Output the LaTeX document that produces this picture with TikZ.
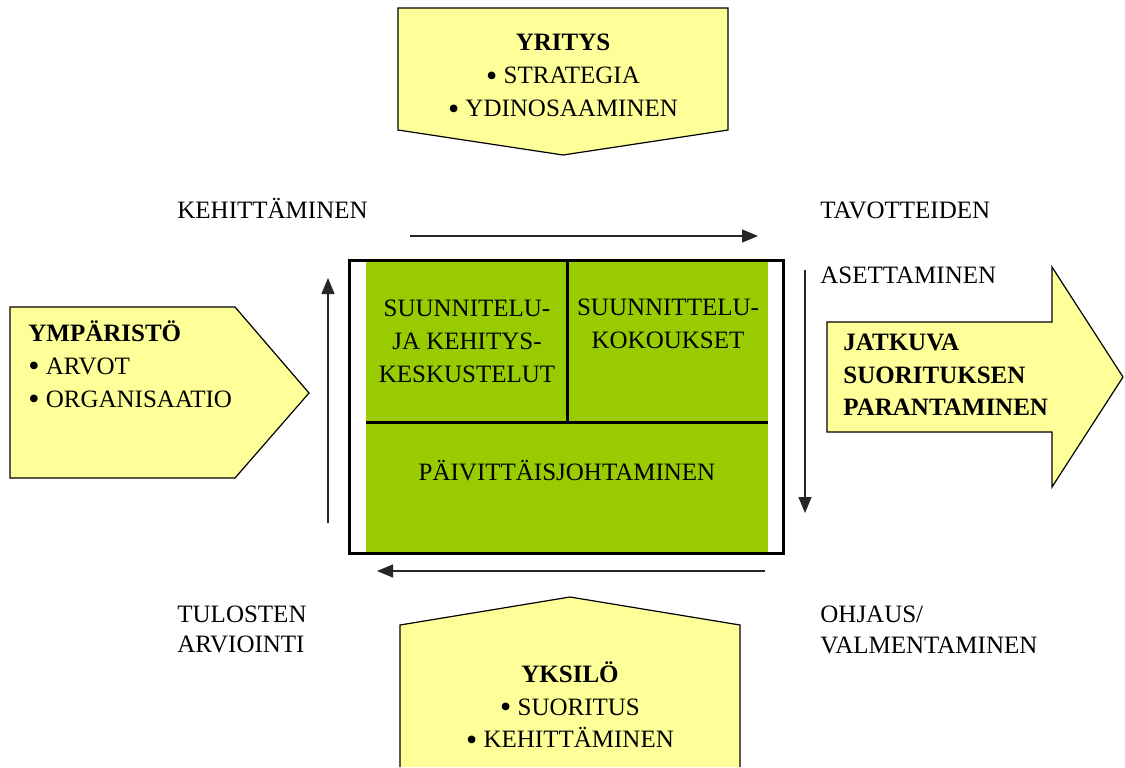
\documentclass[tikz,border=0pt]{standalone}
\usepackage{fontspec}
\setmainfont{Liberation Serif}
\usepackage{xcolor}
\usetikzlibrary{arrows.meta,positioning}
\definecolor{paleyellow}{HTML}{FFFF99}
\definecolor{leafgreen}{HTML}{99CC00}
\newcommand{\bul}{\raisebox{-1.3pt}{\fontsize{16}{16}\selectfont\textbullet}\ }

\begin{document}
\begin{tikzpicture}[x=0.5pt, y=-0.5pt,
                    tag/.style={draw=black, line width=0.6pt, fill=paleyellow},
                    frame/.style={line width=1.5pt, black},
                    divider/.style={line width=1.5pt, black},
                    flow/.style={line width=0.6pt, black!85, -{Triangle[length=8pt,width=6.5pt]}},
                    lbl/.style={inner sep=0pt, font=\fontsize{12.5}{15}\selectfont, align=left},
                    boxtxt/.style={inner sep=0pt, font=\fontsize{12.5}{16.5}\selectfont, align=center},
                   ]

\useasboundingbox (0,0) rectangle (1125,767);

% yellow shapes
\draw[tag] (398,8) -- (728,8) -- (728,130) -- (563,155) -- (398,130) -- cycle;
\draw[tag] (10,307) -- (235,307) -- (309,393) -- (235,478) -- (10,478) -- cycle;
\draw[tag] (827,322) -- (1052,322) -- (1052,267) -- (1123,377) -- (1052,487) -- (1052,432) -- (827,432) -- cycle;
\fill[paleyellow] (400,767) -- (400,625) -- (570,597) -- (740,625) -- (740,767) -- cycle;
\draw[tag, fill=none] (400,767) -- (400,625) -- (570,597) -- (740,625) -- (740,767);

\node[boxtxt] (yritys) at (563,77) {\textbf{YRITYS}\\\bul STRATEGIA\\\bul YDINOSAAMINEN};
\node[boxtxt, align=left, anchor=west] (ymparisto) at (28,365) {\textbf{YMPÄRISTÖ}\\\bul ARVOT\\\bul ORGANISAATIO};
\node[boxtxt, align=left, anchor=west, font=\fontsize{12.5}{16.3}\selectfont\bfseries] (jatkuva) at (843,375) {JATKUVA\\SUORITUKSEN\\PARANTAMINEN};
\node[boxtxt, font=\fontsize{12.5}{16.3}\selectfont] (yksilo) at (570,706) {\textbf{YKSILÖ}\\\bul SUORITUS\\\bul KEHITTÄMINEN};

% centre box
\fill[leafgreen] (366,260) rectangle (768,553);
\draw[divider] (567,260) -- (567,423);
\draw[divider] (366,422) -- (768,422);
\draw[frame] (349,260) rectangle (783,553);

\node[boxtxt] (kehitys) at (467,341) {SUUNNITELU-\\JA KEHITYS-\\KESKUSTELUT};
\node[boxtxt] (kokoukset) at (668,324) {SUUNNITTELU-\\KOKOUKSET};
\node[boxtxt] (paivittais) at (567,471) {PÄIVITTÄISJOHTAMINEN};

% cycle arrows
\coordinate (t1) at (410,236);
\coordinate (t2) at (758,236);
\coordinate (r1) at (805,270);
\coordinate (r2) at (805,513);
\coordinate (b1) at (765,571);
\coordinate (b2) at (377,571);
\coordinate (l1) at (328,523);
\coordinate (l2) at (328,278);

\draw[flow] (t1) -- (t2);
\draw[flow] (r1) -- (r2);
\draw[flow] (b1) -- (b2);
\draw[flow] (l1) -- (l2);

% phase labels
\node[lbl, anchor=base west] (kehittaminen) at (177,218) {KEHITTÄMINEN};
\node[lbl, anchor=base west] (tavoitteiden) at (820,218) {TAVOTTEIDEN};
\node[lbl, anchor=base west] (asettaminen) at (820,283) {ASETTAMINEN};
\node[lbl, anchor=base west] (tulosten) at (177,622) {TULOSTEN};
\node[lbl, anchor=base west] (arviointi) at (177,652) {ARVIOINTI};
\node[lbl, anchor=base west] (ohjaus) at (820,622) {OHJAUS/};
\node[lbl, anchor=base west] (valmentaminen) at (820,653) {VALMENTAMINEN};

\end{tikzpicture}
\end{document}
